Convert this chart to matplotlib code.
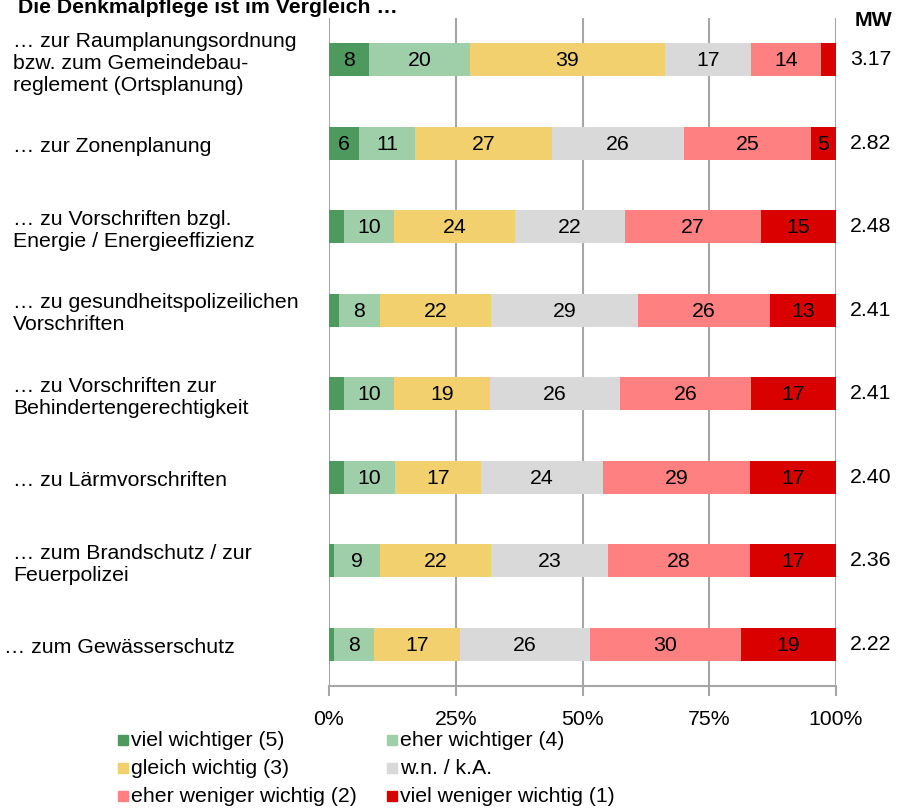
import numpy as np
import matplotlib
matplotlib.use("Agg")
import matplotlib.pyplot as plt
from matplotlib.patches import Rectangle
import matplotlib.transforms as mtransforms

plt.rcParams["font.family"] = ["Liberation Sans", "DejaVu Sans"]

########################################################################
# data
categories = [
    "… zur Raumplanungsordnung\nbzw. zum Gemeindebau-\nreglement (Ortsplanung)",
    "… zur Zonenplanung",
    "… zu Vorschriften bzgl.\nEnergie / Energieeffizienz",
    "… zu gesundheitspolizeilichen\nVorschriften",
    "… zu Vorschriften zur\nBehindertengerechtigkeit",
    "… zu Lärmvorschriften",
    "… zum Brandschutz / zur\nFeuerpolizei",
    "… zum Gewässerschutz",
]
series_names = ["viel wichtiger (5)", "eher wichtiger (4)", "gleich wichtig (3)",
                "w.n. / k.A.", "eher weniger wichtig (2)", "viel weniger wichtig (1)"]

viel_wichtiger = [8, 6, 3, 2, 3, 3, 1, 1]
eher_wichtiger = [20, 11, 10, 8, 10, 10, 9, 8]
gleich_wichtig = [39, 27, 24, 22, 19, 17, 22, 17]
wn_ka = [17, 26, 22, 29, 26, 24, 23, 26]
eher_weniger = [14, 25, 27, 26, 26, 29, 28, 30]
viel_weniger = [3, 5, 15, 13, 17, 17, 17, 19]

mw = ["3.17", "2.82", "2.48", "2.41", "2.41", "2.40", "2.36", "2.22"]

colors = ["#4E9A5E", "#9ECFA9", "#F2D06D", "#D9D9D9", "#FF8080", "#D90000"]

FS = 15.3

################# PLOT ##################################################
W, H = 914, 808
fig = plt.figure(figsize=(W / 100, H / 100), dpi=100)
ax = fig.add_axes([329 / W, 1 - 686 / H, (836 - 329) / W, (686 - 18) / H])

vals = np.array([viel_wichtiger, eher_wichtiger, gleich_wichtig, wn_ka, eher_weniger, viel_weniger], dtype=float)
pct = vals / vals.sum(axis=0) * 100  # 100% stacked like excel

y = np.arange(len(categories))
left = np.zeros(len(categories))
for i in range(len(series_names)):
    ax.barh(y, pct[i], left=left, height=0.4, color=colors[i], zorder=3)
    for j in range(len(categories)):
        if vals[i, j] >= 5:
            ax.text(left[j] + pct[i, j] / 2, y[j] + 0.01, "%d" % vals[i, j], ha="center", va="center",
                    fontsize=FS, color="black", zorder=4)
    left += pct[i]

ax.set_xlim(0, 100)
ax.set_ylim(len(categories) - 0.5, -0.5)
ax.set_xticks([0, 25, 50, 75, 100])
ax.set_xticklabels(["0%", "25%", "50%", "75%", "100%"], fontsize=FS)
ax.set_yticks([])
ax.grid(axis="x", color="#A6A6A6", linewidth=1.5, zorder=0)
for s in ["top", "right", "left"]:
    ax.spines[s].set_visible(False)
ax.spines["bottom"].set_color("#A6A6A6")
ax.spines["bottom"].set_linewidth(1.5)
ax.tick_params(axis="x", length=7, width=1.5, color="#A6A6A6", pad=10)

# category labels on the left
trans = mtransforms.blended_transform_factory(fig.transFigure, ax.transData)
for j, lab in enumerate(categories):
    xpos = 13 / W if j < len(categories) - 1 else 4 / W
    ax.text(xpos, y[j] + 0.04, lab, transform=trans, ha="left", va="center",
            fontsize=FS, linespacing=1.2)

# MW column
for j, v in enumerate(mw):
    ax.text(850 / W, y[j], v, transform=trans, ha="left", va="center", fontsize=FS)
fig.text(873 / W, 1 - 21 / H, "MW", ha="center", va="center", fontsize=FS, fontweight="bold")

# title (cut at top like the original)
fig.text(18 / W, 1 - 13 / H, "Die Denkmalpflege ist im Vergleich …", ha="left", va="baseline",
         fontsize=FS, fontweight="bold")

# legend
leg_pos = [(118, 740), (387, 740), (118, 768), (387, 768), (118, 796), (387, 796)]
for i, name in enumerate(series_names):
    px, py = leg_pos[i]
    fig.add_artist(Rectangle((px / W, 1 - (py + 5) / H), 10 / W, 10 / H,
                             transform=fig.transFigure, color=colors[i]))
    fig.text((px + 13) / W, 1 - py / H, name, ha="left", va="center", fontsize=FS)

plt.savefig("out.png", dpi=100)
